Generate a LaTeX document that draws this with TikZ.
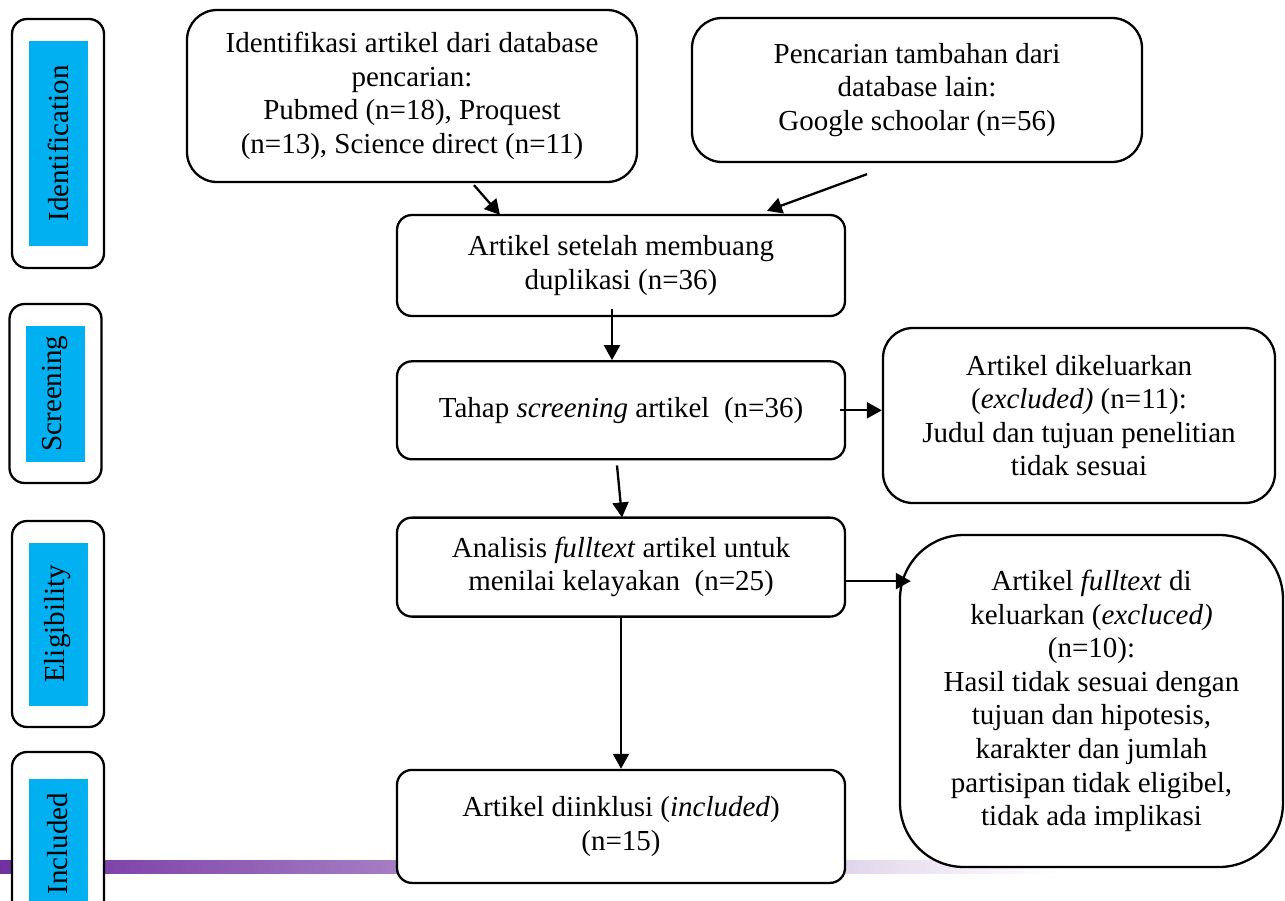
\documentclass[tikz,border=0pt]{standalone}
\usepackage{fontspec}
\setmainfont{Liberation Serif}
\usetikzlibrary{arrows.meta,positioning}
\definecolor{stageblue}{RGB}{0,176,240}
\definecolor{barpurple}{RGB}{112,48,160}
\newcommand{\boxfont}{\fontsize{14.5}{16.8}\selectfont}
\newcommand{\newBox}[4]{\node[#3](#1)[#4]{#2};}
\newcommand{\newArrow}[2]{\draw[->] (#1) -- (#2);}
\newcommand{\newStage}[5]{\node[stage,minimum height=#4](#1Stage) at (#3) {};
  \node[stagelabel,minimum width=#5](#1Label) at (#1Stage) {#2};}

\begin{document}
\begin{tikzpicture}[
    % one unit is one pixel of the page, y goes down
    x=0.5pt,y=-0.5pt,
    % Default arrow tip
    >={Triangle[length=7.5pt,width=8pt]},
    % Edge stroke thickness
    line width=1.15pt,
    box/.style={draw,fill=white,rounded corners=7.5pt,align=center,
      font=\boxfont,inner sep=2pt},
    roundbox/.style={box,rounded corners=15pt},
    stage/.style={draw,fill=white,rounded corners=7.5pt,minimum width=46pt},
    stagelabel/.style={fill=stageblue,rotate=90,minimum height=29.5pt,
      inner sep=0pt,font=\boxfont}
    ]

    \useasboundingbox (0,0) rectangle (1285,900);

    % bar at the foot of the page
    \shade[left color=barpurple,right color=white] (0,860) rectangle (1060,873);

    \newStage{id}{Identification}{58,143.5}{124.5pt}{102.5pt}
    \newStage{sc}{Screening}{55.5,393.5}{89.5pt}{68pt}
    \newStage{el}{Eligibility}{58,624}{103pt}{81.5pt}
    \newStage{in}{Included}{58,843.5}{91.5pt}{65pt}

    \newBox{ident}{Identifikasi artikel dari database\\ pencarian:\\ Pubmed (n=18), Proquest\\ (n=13), Science direct (n=11)}{roundbox,minimum width=225pt,minimum height=86pt}{at={(412,96)}}
    \newBox{other}{Pencarian tambahan dari\\ database lain:\\ Google schoolar (n=56)}{roundbox,minimum width=225pt,minimum height=72pt}{at={(917,90)}}
    \newBox{dup}{Artikel setelah membuang\\ duplikasi (n=36)}{box,minimum width=224pt,minimum height=50.5pt}{at={(621,265.5)}}
    \newBox{scr}{Tahap \textit{screening} artikel~~(n=36)}{box,minimum width=224pt,minimum height=49pt}{below=21.5pt of dup}
    \newBox{full}{Analisis \textit{fulltext} artikel untuk\\ menilai kelayakan~~(n=25)}{box,minimum width=224pt,minimum height=49.5pt}{below=28pt of scr}
    \newBox{incl}{Artikel diinklusi (\textit{included})\\ (n=15)}{box,minimum width=224pt,minimum height=56.5pt}{below=75.5pt of full}
    \newBox{excl1}{Artikel dikeluarkan\\ (\textit{excluded)} (n=11):\\ Judul dan tujuan penelitian\\ tidak sesuai}{roundbox,minimum width=196pt,minimum height=87.5pt}{at={(1079,415.5)}}
    \newBox{excl2}{Artikel \textit{fulltext} di\\ keluarkan (\textit{excluced)}\\ (n=10):\\ Hasil tidak sesuai dengan\\ tujuan dan hipotesis,\\ karakter dan jumlah\\ partisipan tidak eligibel,\\ tidak ada implikasi}{roundbox,rounded corners=32pt,minimum width=191.5pt,minimum height=166pt}{at={(1091.5,701)}}

    \coordinate (fullout) at ([shift={(0,14)}]full.east);
    \coordinate (fullin) at (fullout -| excl2.west);

    \newArrow{[shift={(62,2)}]ident.south}{[shift={(-121,1)}]dup.north}
    \newArrow{[shift={(-50,11)}]other.south}{[shift={(146,-3)}]dup.north}
    \newArrow{[shift={(-9,-8)}]dup.south}{[shift={(-9,0)}]scr.north}
    \newArrow{[shift={(-4,5)}]scr.south}{[shift={(1,1)}]full.north}
    \newArrow{[shift={(-6,0)}]scr.east}{scr.east -| excl1.west}
    \newArrow{fullout}{[xshift=6pt]fullin}
    \newArrow{full.south}{full.south |- incl.north}
  \end{tikzpicture}
\end{document}
